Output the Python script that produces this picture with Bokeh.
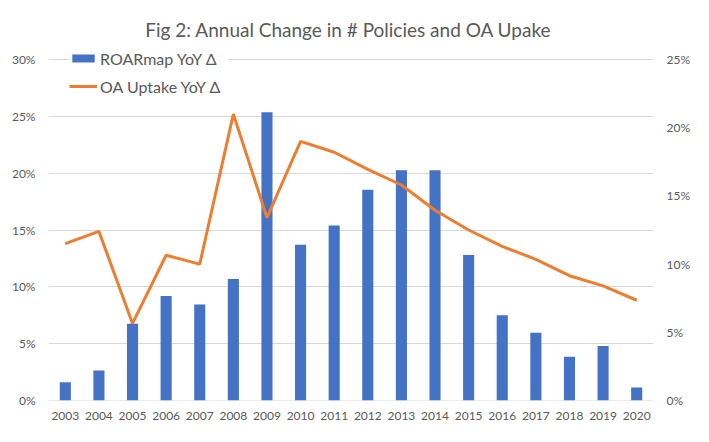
from bokeh.plotting import figure
from bokeh.models import (Range1d, LinearAxis, FixedTicker, NumeralTickFormatter, Legend,
                          LegendItem, ColumnDataSource, Span)
from bokeh.embed import file_html
from bokeh.resources import INLINE

years = [str(y) for y in range(2003, 2021)]
roarmap_yoy = [1.6, 2.65, 6.75, 9.2, 8.45, 10.7, 25.35, 13.7, 15.4, 18.55, 20.25, 20.25,
               12.8, 7.5, 5.95, 3.85, 4.8, 1.15]
oa_uptake_yoy = [11.5, 12.4, 5.65, 10.65, 10.0, 21.0, 13.4, 19.0, 18.2, 16.95, 15.8, 13.95,
                 12.5, 11.3, 10.35, 9.15, 8.4, 7.35]
left_ticks = [0, 0.05, 0.10, 0.15, 0.20, 0.25, 0.30]
right_ticks = [0, 0.05, 0.10, 0.15, 0.20, 0.25]

src = ColumnDataSource(dict(
    year=years,
    roar=[v / 100 for v in roarmap_yoy],
    oa=[v / 100 for v in oa_uptake_yoy],
))

FONT = "Lato"
GREY = "#595959"

# frame spans 358 px; 30% occupies the lowest 341 px, leaving headroom for the legend
LEFT_END = 0.30 * 358 / 341
RIGHT_END = LEFT_END * 0.25 / 0.30

p = figure(x_range=years, y_range=Range1d(0, LEFT_END), width=693, height=426,
           output_backend="svg", toolbar_location=None,
           min_border_left=48, min_border_right=35, min_border_top=42, min_border_bottom=26)
p.extra_y_ranges = {"right": Range1d(0, RIGHT_END)}

p.title.text = "Fig 2: Annual Change in # Policies  and OA Upake"
p.title.align = "center"
p.title.text_font = FONT
p.title.text_font_size = "19px"
p.title.text_font_style = "normal"
p.title.text_color = GREY
p.title.standoff = 3

p.outline_line_color = None
p.xgrid.grid_line_color = None
p.ygrid.grid_line_color = "#d9d9d9"
p.ygrid.grid_line_width = 1
p.add_layout(Span(location=0, dimension="width", line_color="#d9d9d9",
                  line_width=1, level="underlay"))

bars = p.vbar(x="year", top="roar", width=0.33, source=src, fill_color="#4472C4", line_color=None)
line = p.line(x="year", y="oa", source=src, y_range_name="right", line_color="#ED7D31", line_width=3)

def style_axis(ax, standoff):
    ax.axis_line_color = None
    ax.major_tick_line_color = None
    ax.minor_tick_line_color = None
    ax.major_tick_in = 0
    ax.major_tick_out = 0
    ax.minor_tick_in = 0
    ax.minor_tick_out = 0
    ax.major_label_text_font = FONT
    ax.major_label_text_font_size = "12px"
    ax.major_label_text_color = GREY
    ax.major_label_standoff = standoff

p.yaxis.ticker = FixedTicker(ticks=left_ticks)
p.yaxis.formatter = NumeralTickFormatter(format="0%")
style_axis(p.yaxis[0], 13)
style_axis(p.xaxis[0], 11)

raxis = LinearAxis(y_range_name="right", ticker=FixedTicker(ticks=right_ticks),
                   formatter=NumeralTickFormatter(format="0%"))
style_axis(raxis, 13)
p.add_layout(raxis, "right")

legend = Legend(items=[LegendItem(label="ROARmap YoY Δ", renderers=[bars]),
                       LegendItem(label="OA Uptake YoY Δ", renderers=[line])],
                location=(21, 304), orientation="vertical")
legend.glyph_width = 28
legend.glyph_height = 10
legend.label_height = 20
legend.label_width = 128
legend.spacing = 8
legend.padding = 4
legend.label_standoff = 3
legend.label_text_font = FONT
legend.label_text_font_size = "16px"
legend.label_text_color = GREY
legend.border_line_color = None
legend.background_fill_color = "white"
legend.background_fill_alpha = 1.0
p.add_layout(legend, "center")

open("out.html", "w").write(file_html(p, INLINE))
